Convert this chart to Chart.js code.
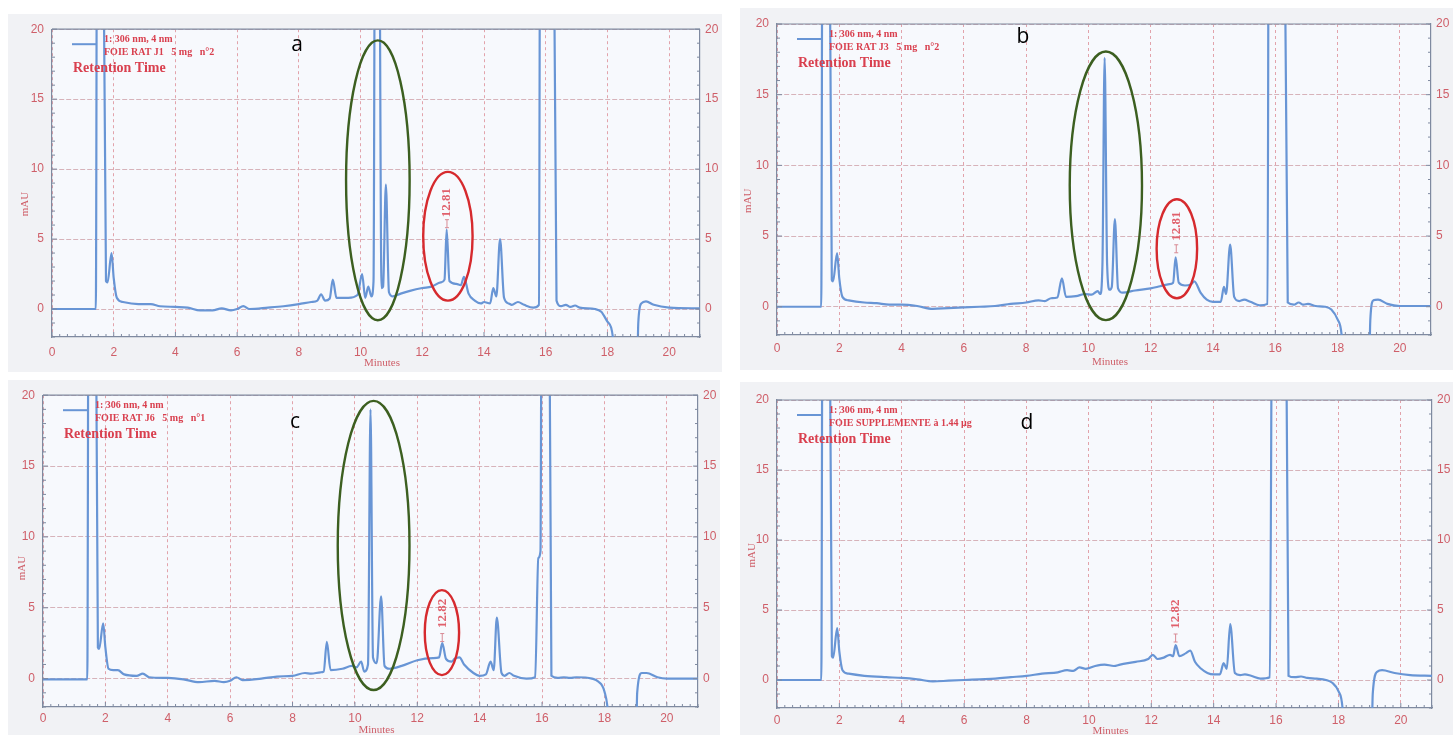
<!DOCTYPE html>
<html>
<head>
<meta charset="utf-8">
<script src="https://cdn.jsdelivr.net/npm/chart.js@4.4.1/dist/chart.umd.min.js"></script>
<style>
  html, body { margin: 0; padding: 0; background: #fff; }
  body { width: 1453px; height: 735px; position: relative; overflow: hidden; }
  .panel { position: absolute; }
</style>
</head>
<body>
<div class="panel" style="left:8px;top:14px;width:714px;height:358px"><canvas id="ca"></canvas></div>
<div class="panel" style="left:740px;top:8px;width:713px;height:362px"><canvas id="cb"></canvas></div>
<div class="panel" style="left:8px;top:380px;width:712px;height:355px"><canvas id="cc"></canvas></div>
<div class="panel" style="left:740px;top:382px;width:713px;height:353px"><canvas id="cd"></canvas></div>
<script>
// x ticks (minutes) and y ticks (mAU)
const minuteTicks = [0, 2, 4, 6, 8, 10, 12, 14, 16, 18, 20];
const mauTicks = [0, 5, 10, 15, 20];

// a - FOIE RAT J1 (>20 / <-2 are off scale)
const timeA = [0, 1.42, 1.47, 1.62, 1.75, 1.8, 1.93, 2.0, 2.1, 2.3, 2.8, 3.2, 3.5, 4.0, 4.4, 4.8, 5.2, 5.5, 5.8, 6.0, 6.2, 6.4, 7.0, 7.5, 8.0, 8.4, 8.6, 8.72, 8.85, 9.0, 9.1, 9.22, 9.6, 9.9, 10.05, 10.15, 10.25, 10.35, 10.42, 10.48, 10.58, 10.68, 10.73, 10.82, 10.92, 11.05, 11.3, 11.6, 12.0, 12.3, 12.6, 12.72, 12.79, 12.88, 13.1, 13.25, 13.35, 13.5, 13.7, 13.9, 14.0, 14.2, 14.3, 14.4, 14.52, 14.65, 14.8, 14.9, 15.1, 15.3, 15.6, 15.78, 15.83, 16.22, 16.35, 16.5, 16.65, 16.8, 16.95, 17.1, 17.6, 17.8, 18.0, 18.2, 18.25, 18.95, 19.0, 19.1, 19.25, 19.5, 20.0, 21.0];
const mauA  = [0, 0, 40, 40, 2.0, 1.9, 4.0, 2.2, 0.8, 0.5, 0.35, 0.35, 0.2, 0.15, 0.1, -0.1, -0.1, 0.05, -0.1, 0.0, 0.2, 0.0, 0.1, 0.2, 0.35, 0.5, 0.6, 1.05, 0.6, 0.75, 2.1, 0.8, 0.8, 1.0, 2.5, 0.8, 1.6, 0.9, 2.0, 40, 40, 1.5, 1.6, 8.9, 1.2, 0.9, 1.1, 1.3, 1.5, 1.6, 1.9, 2.1, 5.7, 2.0, 1.8, 1.7, 2.3, 1.1, 0.6, 0.4, 0.5, 0.4, 1.5, 0.9, 5.0, 0.8, 0.4, 0.3, 0.5, 0.3, 0.1, 0.3, 40, 40, 0.6, 0.2, 0.3, 0.15, 0.25, 0.1, 0.0, -0.2, -0.9, -2.5, -6, -6, -1, 0.4, 0.55, 0.3, 0.1, 0.05];

// b - FOIE RAT J3
const timeB = [0, 1.42, 1.47, 1.65, 1.76, 1.8, 1.93, 2.0, 2.1, 2.3, 2.8, 3.2, 3.6, 4.0, 4.5, 5.0, 5.5, 6.0, 6.5, 7.0, 7.5, 8.0, 8.4, 8.6, 8.8, 9.0, 9.15, 9.28, 9.6, 9.9, 10.1, 10.3, 10.38, 10.45, 10.52, 10.6, 10.68, 10.75, 10.85, 10.95, 11.1, 11.5, 12.0, 12.3, 12.6, 12.72, 12.8, 12.9, 13.1, 13.3, 13.4, 13.6, 13.8, 14.0, 14.25, 14.35, 14.42, 14.55, 14.68, 14.85, 15.0, 15.2, 15.5, 15.75, 15.8, 16.25, 16.4, 16.6, 16.75, 16.9, 17.05, 17.3, 17.6, 17.8, 18.0, 18.15, 18.2, 19.0, 19.05, 19.15, 19.3, 19.6, 20.0, 21.0];
const mauB  = [0, 0, 40, 40, 1.9, 1.8, 3.8, 2.0, 0.7, 0.45, 0.3, 0.25, 0.15, 0.15, 0.05, -0.15, -0.1, -0.05, 0.0, 0.05, 0.2, 0.3, 0.45, 0.4, 0.6, 0.65, 2.0, 0.7, 0.75, 0.9, 0.85, 1.1, 0.9, 3.0, 17.6, 3.0, 1.2, 1.4, 6.2, 1.3, 1.0, 1.15, 1.3, 1.45, 1.6, 1.7, 3.5, 1.7, 1.5, 1.6, 1.8, 1.0, 0.5, 0.35, 0.35, 1.4, 0.9, 4.4, 0.7, 0.4, 0.5, 0.35, 0.1, 0.2, 40, 40, 0.3, 0.15, 0.3, 0.15, 0.2, 0.05, 0.0, -0.2, -0.9, -2.5, -6, -6, -1, 0.45, 0.5, 0.2, 0.05, 0.05];

// c - FOIE RAT J6
const timeC = [0, 1.42, 1.47, 1.66, 1.76, 1.8, 1.93, 2.0, 2.1, 2.25, 2.4, 2.6, 3.0, 3.2, 3.4, 4.0, 4.5, 5.0, 5.5, 5.8, 6.0, 6.2, 6.4, 7.0, 7.5, 8.0, 8.4, 8.6, 8.9, 9.0, 9.1, 9.22, 9.6, 9.9, 10.05, 10.2, 10.3, 10.42, 10.5, 10.58, 10.7, 10.84, 10.95, 11.1, 11.5, 12.0, 12.5, 12.7, 12.8, 12.92, 13.1, 13.2, 13.35, 13.5, 13.8, 14.0, 14.2, 14.35, 14.45, 14.55, 14.7, 14.8, 14.95, 15.1, 15.5, 15.78, 15.88, 15.95, 16.0, 16.2, 16.3, 16.5, 16.7, 16.9, 17.1, 17.6, 17.8, 18.0, 18.12, 18.2, 19.0, 19.05, 19.2, 19.35, 19.7, 20.0, 21.0];
const mauC  = [-0.05, -0.05, 40, 40, 2.2, 2.1, 3.9, 2.2, 0.7, 0.6, 0.6, 0.3, 0.2, 0.35, 0.1, 0.05, -0.05, -0.25, -0.15, -0.25, -0.15, 0.1, -0.1, 0.0, 0.15, 0.2, 0.4, 0.35, 0.45, 0.5, 2.6, 0.6, 0.7, 0.9, 0.8, 1.2, 0.5, 1.0, 19.0, 1.5, 1.1, 5.8, 0.9, 0.7, 0.9, 1.3, 1.45, 1.5, 2.5, 1.4, 1.2, 1.4, 1.5, 1.0, 0.4, 0.2, 0.3, 1.2, 0.6, 4.3, 0.4, 0.2, 0.4, 0.2, 0.0, 0.1, 8.5, 9.0, 40, 40, 0.2, 0.05, 0.1, 0.05, 0.1, 0.0, -0.2, -0.9, -2.5, -6, -6, -1, 0.4, 0.4, 0.1, 0.0, 0.0];

// d - FOIE SUPPLEMENTE
const timeD = [0, 1.42, 1.47, 1.65, 1.76, 1.8, 1.93, 2.0, 2.1, 2.3, 2.8, 3.5, 4.0, 4.5, 5.0, 5.5, 6.0, 6.5, 7.0, 7.5, 8.0, 8.5, 9.0, 9.3, 9.5, 9.7, 9.9, 10.2, 10.5, 10.8, 11.0, 11.5, 11.9, 12.05, 12.2, 12.4, 12.6, 12.7, 12.78, 12.9, 13.1, 13.25, 13.4, 13.6, 13.8, 14.0, 14.2, 14.32, 14.42, 14.53, 14.68, 14.85, 15.0, 15.2, 15.5, 15.8, 15.9, 16.28, 16.4, 16.6, 16.8, 17.0, 17.3, 17.6, 17.8, 18.0, 18.15, 18.2, 19.05, 19.1, 19.25, 19.4, 19.8, 20.3, 21.0];
const mauD  = [0, 0, 40, 40, 1.7, 1.6, 3.7, 2.0, 0.7, 0.45, 0.3, 0.2, 0.15, 0.05, -0.1, -0.05, 0.0, 0.05, 0.1, 0.2, 0.3, 0.45, 0.55, 0.7, 0.65, 0.9, 0.8, 1.0, 1.1, 1.0, 1.1, 1.3, 1.5, 1.8, 1.5, 1.6, 1.8, 1.7, 2.5, 1.7, 1.9, 2.1, 1.3, 0.8, 0.5, 0.4, 0.4, 1.2, 0.8, 4.0, 0.5, 0.35, 0.4, 0.3, 0.1, 0.2, 40, 40, 0.3, 0.2, 0.25, 0.15, 0.1, 0.0, -0.2, -0.8, -2.5, -6, -6, -1, 0.6, 0.7, 0.5, 0.35, 0.3];

const TRACE = '#6895d5';
const RED_TXT = '#d9404f';
const TICK_TXT = '#cf5f69';
const AXIS = '#7f8aa0';

function deco(p) {
  return {
    id: 'deco' + p.letter,
    beforeDraw(chart) {
      const { ctx, chartArea: a, width, height } = chart;
      ctx.save();
      ctx.fillStyle = '#f1f2f5';
      ctx.fillRect(0, 0, width, height);
      ctx.fillStyle = '#f7f9fd';
      ctx.fillRect(a.left, a.top, a.right - a.left, a.bottom - a.top);
      ctx.restore();
    },
    afterDatasetsDraw(chart) {
      const { ctx } = chart;
      const xs = chart.scales.x, ys = chart.scales.y;
      ctx.save();
      // circled peaks
      p.rings.forEach(r => {
        const cx = xs.getPixelForValue(r.t), cy = ys.getPixelForValue(r.v);
        const rx = Math.abs(xs.getPixelForValue(r.t + r.dt) - cx);
        const ry = Math.abs(ys.getPixelForValue(r.v + r.dv) - cy);
        ctx.beginPath();
        ctx.ellipse(cx, cy, rx, ry, 0, 0, Math.PI * 2);
        ctx.strokeStyle = r.color;
        ctx.lineWidth = 2.4;
        ctx.stroke();
      });
      // retention time label
      const lx = xs.getPixelForValue(p.peak.t);
      const ly = ys.getPixelForValue(p.peak.v);
      ctx.translate(lx, ly);
      ctx.rotate(-Math.PI / 2);
      ctx.fillStyle = '#e0606c';
      ctx.font = 'bold 13px "Liberation Serif", serif';
      ctx.textAlign = 'center';
      ctx.textBaseline = 'middle';
      ctx.fillText(p.peak.label, 0, 0);
      ctx.restore();
      const mx = xs.getPixelForValue(p.peak.t), my = ys.getPixelForValue(p.peak.mark);
      ctx.save();
      ctx.strokeStyle = '#d88a94';
      ctx.lineWidth = 1;
      ctx.beginPath();
      ctx.moveTo(mx, my - 4); ctx.lineTo(mx, my + 4);
      ctx.moveTo(mx - 2, my - 4); ctx.lineTo(mx + 2, my - 4);
      ctx.moveTo(mx - 2, my + 4); ctx.lineTo(mx + 2, my + 4);
      ctx.stroke();
      ctx.restore();
    },
    afterDraw(chart) {
      const { ctx, chartArea: a } = chart;
      const xs = chart.scales.x, ys = chart.scales.y;
      ctx.save();
      // frame top + minor ticks
      ctx.strokeStyle = AXIS;
      ctx.lineWidth = 1.2;
      ctx.beginPath();
      ctx.moveTo(a.left, a.top); ctx.lineTo(a.right, a.top);
      ctx.stroke();
      ctx.lineWidth = 1;
      ctx.beginPath();
      for (let i = 0; i <= 84; i++) {
        const px = xs.getPixelForValue(i * 0.25);
        const len = i % 8 === 0 ? 5 : 3;
        ctx.moveTo(px, a.bottom); ctx.lineTo(px, a.bottom - len);
      }
      for (let v = -2; v <= 20; v++) {
        const py = ys.getPixelForValue(v);
        const len = v % 5 === 0 ? 5 : 3;
        ctx.moveTo(a.left, py); ctx.lineTo(a.left + len, py);
        ctx.moveTo(a.right, py); ctx.lineTo(a.right - len, py);
      }
      ctx.stroke();

      // legend block
      ctx.strokeStyle = TRACE;
      ctx.lineWidth = 2;
      ctx.beginPath();
      ctx.moveTo(a.left + 20, a.top + 15); ctx.lineTo(a.left + 44, a.top + 15);
      ctx.stroke();
      ctx.fillStyle = RED_TXT;
      ctx.textAlign = 'left';
      ctx.textBaseline = 'alphabetic';
      ctx.font = 'bold 10px "Liberation Serif", serif';
      ctx.fillText('1: 306 nm, 4 nm', a.left + 52, a.top + 13);
      ctx.fillText(p.sample, a.left + 52, a.top + 26);
      ctx.font = 'bold 14px "Liberation Serif", serif';
      ctx.fillText('Retention Time', a.left + 21, a.top + 43);

      // axis titles
      ctx.fillStyle = TICK_TXT;
      ctx.font = '11px "Liberation Serif", serif';
      ctx.textAlign = 'center';
      ctx.textBaseline = 'middle';
      ctx.fillText('Minutes', (a.left + a.right) / 2 + 6, a.bottom + p.minutesDy);
      ctx.save();
      ctx.translate(a.left + p.mauDx, ys.getPixelForValue(p.mauAt));
      ctx.rotate(-Math.PI / 2);
      ctx.fillText('mAU', 0, 0);
      ctx.restore();

      // panel letter
      ctx.fillStyle = '#000';
      ctx.font = '21px "Open Sans", "Liberation Sans", sans-serif';
      ctx.fillText(p.letter, p.letterX, p.letterY);
      ctx.restore();
    }
  };
}

function makeChart(p) {
  const pts = p.times.map((t, i) => ({ x: t, y: p.mau[i] }));
  const el = document.getElementById(p.canvas);
  const box = el.parentNode.getBoundingClientRect();
  const tickFont = { family: '"Liberation Sans", Arial, sans-serif', size: 12 };
  return new Chart(el, {
    type: 'line',
    data: {
      datasets: [{
        data: pts,
        borderColor: TRACE,
        borderWidth: 2.2,
        pointRadius: 0,
        cubicInterpolationMode: 'monotone',
        fill: false
      }]
    },
    options: {
      responsive: true,
      maintainAspectRatio: false,
      animation: false,
      events: [],
      layout: { padding: { top: p.top, left: 0, right: 0, bottom: 0 } },
      plugins: { legend: { display: false }, tooltip: { enabled: false } },
      scales: {
        x: {
          type: 'linear', min: 0, max: 21,
          afterBuildTicks: s => { s.ticks = minuteTicks.map(v => ({ value: v })); },
          afterFit: s => { s.height = box.height - p.bottom; },
          ticks: { color: TICK_TXT, font: tickFont, padding: p.xPad, maxRotation: 0, autoSkip: false },
          grid: { color: '#e2a3ab', lineWidth: 1, drawTicks: false },
          border: { color: AXIS, width: 1.2, dash: [3, 3] }
        },
        y: {
          type: 'linear', position: 'left', min: -2, max: 20,
          afterBuildTicks: s => { s.ticks = mauTicks.map(v => ({ value: v })); },
          afterFit: s => { s.width = p.left; },
          ticks: { color: TICK_TXT, font: tickFont, padding: 8 },
          grid: { color: '#d7b3ba', lineWidth: 1, drawTicks: false },
          border: { color: AXIS, width: 1.2, dash: [5, 2] }
        },
        y2: {
          type: 'linear', position: 'right', min: -2, max: 20,
          afterBuildTicks: s => { s.ticks = mauTicks.map(v => ({ value: v })); },
          afterFit: s => { s.width = p.right; },
          ticks: { color: TICK_TXT, font: tickFont, padding: 5 },
          grid: { drawOnChartArea: false, drawTicks: false },
          border: { color: AXIS, width: 1.2 }
        }
      }
    },
    plugins: [deco(p)]
  });
}

makeChart({
  canvas: 'ca', letter: 'a', times: timeA, mau: mauA,
  sample: 'FOIE RAT J1   5 mg   n°2',
  top: 14, left: 44, right: 22, bottom: 323, xPad: 8,
  minutesDy: 26, mauDx: -27, mauAt: 7.5, letterX: 289, letterY: 31,
  peak: { t: 12.8, v: 7.6, mark: 6.1, label: '12.81' },
  rings: [
    { t: 10.56, v: 9.2, dt: 1.03, dv: 10.0, color: '#3c5f20' },
    { t: 12.83, v: 5.2, dt: 0.8, dv: 4.6, color: '#d62a2e' }
  ]
});
makeChart({
  canvas: 'cb', letter: 'b', times: timeB, mau: mauB,
  sample: 'FOIE RAT J3   5 mg   n°2',
  top: 16, left: 37, right: 22, bottom: 327, xPad: 6,
  minutesDy: 27, mauDx: -29, mauAt: 7.5, letterX: 283, letterY: 29,
  peak: { t: 12.82, v: 5.7, mark: 4.1, label: '12.81' },
  rings: [
    { t: 10.56, v: 8.55, dt: 1.16, dv: 9.5, color: '#3c5f20' },
    { t: 12.84, v: 4.1, dt: 0.65, dv: 3.5, color: '#d62a2e' }
  ]
});
makeChart({
  canvas: 'cc', letter: 'c', times: timeC, mau: mauC,
  sample: 'FOIE RAT J6   5 mg   n°1',
  top: 15, left: 35, right: 22, bottom: 327, xPad: 4,
  minutesDy: 23, mauDx: -21, mauAt: 7.8, letterX: 287, letterY: 42,
  peak: { t: 12.8, v: 4.6, mark: 2.9, label: '12.82' },
  rings: [
    { t: 10.6, v: 9.4, dt: 1.15, dv: 10.2, color: '#3c5f20' },
    { t: 12.79, v: 3.25, dt: 0.55, dv: 3.0, color: '#d62a2e' }
  ]
});
makeChart({
  canvas: 'cd', letter: 'd', times: timeD, mau: mauD,
  sample: 'FOIE SUPPLEMENTE à 1.44 µg',
  top: 18, left: 37, right: 21, bottom: 326, xPad: 5,
  minutesDy: 23, mauDx: -25, mauAt: 8.9, letterX: 287, letterY: 41,
  peak: { t: 12.78, v: 4.7, mark: 3.0, label: '12.82' },
  rings: []
});
</script>
</body>
</html>
